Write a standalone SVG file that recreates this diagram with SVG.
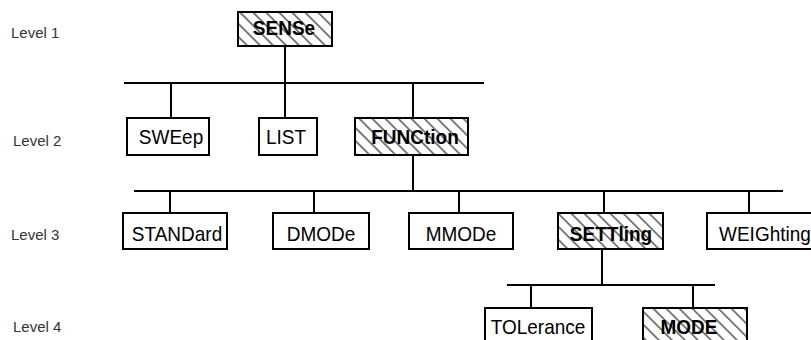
<svg xmlns="http://www.w3.org/2000/svg" width="811" height="340" viewBox="0 0 811 340">
<defs>
<pattern id="hatch" patternUnits="userSpaceOnUse" width="9.2" height="9.2" patternTransform="rotate(45)">
<rect width="9.2" height="9.2" fill="#fff"/>
<line x1="0" y1="4.6" x2="9.2" y2="4.6" stroke="#000" stroke-width="1"/>
</pattern>
<style>
.box{fill:#fff;stroke:#000;stroke-width:2}
.hb{fill:url(#hatch);stroke:#000;stroke-width:2}
.t{font-family:"Liberation Sans",Arial,sans-serif;font-size:19px;fill:#000;text-anchor:middle}
.b{font-weight:bold}
.lv{font-family:"Liberation Sans",Arial,sans-serif;font-size:15px;fill:#333}
.c{stroke:#000;stroke-width:2;fill:none}
</style>
</defs>
<rect width="811" height="340" fill="#fff"/>
<g id="levels">
<text class="lv" x="11" y="38">Level 1</text>
<text class="lv" x="13" y="146">Level 2</text>
<text class="lv" x="11" y="240">Level 3</text>
<text class="lv" x="13" y="332">Level 4</text>
</g>
<g id="connectors">
<path class="c" d="M285 46V83 M124 83H484 M171 83V118 M285 83V118 M413 83V118"/>
<path class="c" d="M413 155V191 M134 191H783 M170 191V213 M314 191V213 M459 191V213 M604 191V213 M749 191V213"/>
<path class="c" d="M602 249V285 M507 285H715 M531 285V308 M693 285V308"/>
</g>
<g id="SENSe"><rect class="hb" x="238" y="12" width="94" height="34"/><text class="t b" transform="matrix(1,0,0,1.1,284,35)">SENSe</text></g>
<g id="SWEep"><rect class="box" x="127" y="118" width="82" height="37"/><text class="t" transform="matrix(1,0,0,1.1,171,144)">SWEep</text></g>
<g id="LIST"><rect class="box" x="259" y="118" width="58" height="37"/><text class="t" transform="matrix(1,0,0,1.1,286,144)">LIST</text></g>
<g id="FUNCtion"><rect class="hb" x="355" y="118" width="113" height="37"/><text class="t b" transform="matrix(1,0,0,1.1,415,144)">FUNCtion</text></g>
<g id="STANDard"><rect class="box" x="123" y="213" width="104" height="36"/><text class="t" transform="matrix(1,0,0,1.1,177,241)">STANDard</text></g>
<g id="DMODe"><rect class="box" x="273" y="213" width="96" height="36"/><text class="t" transform="matrix(1,0,0,1.1,321,241)">DMODe</text></g>
<g id="MMODe"><rect class="box" x="409" y="213" width="104" height="36"/><text class="t" transform="matrix(1,0,0,1.1,461,241)">MMODe</text></g>
<g id="SETTling"><rect class="hb" x="558" y="213" width="105" height="36"/><text class="t b" transform="matrix(1,0,0,1.1,611,241)">SETTling</text></g>
<g id="WEIGhting"><rect class="box" x="707" y="213" width="120" height="36"/><text class="t" transform="matrix(1,0,0,1.1,719,241)" style="text-anchor:start">WEIGhting</text></g>
<g id="TOLerance"><rect class="box" x="485" y="308" width="107" height="40"/><text class="t" transform="matrix(1,0,0,1.1,538,334)">TOLerance</text></g>
<g id="MODE"><rect class="hb" x="643" y="308" width="104" height="40"/><text class="t b" transform="matrix(1,0,0,1.1,689,334)">MODE</text></g>
</svg>
